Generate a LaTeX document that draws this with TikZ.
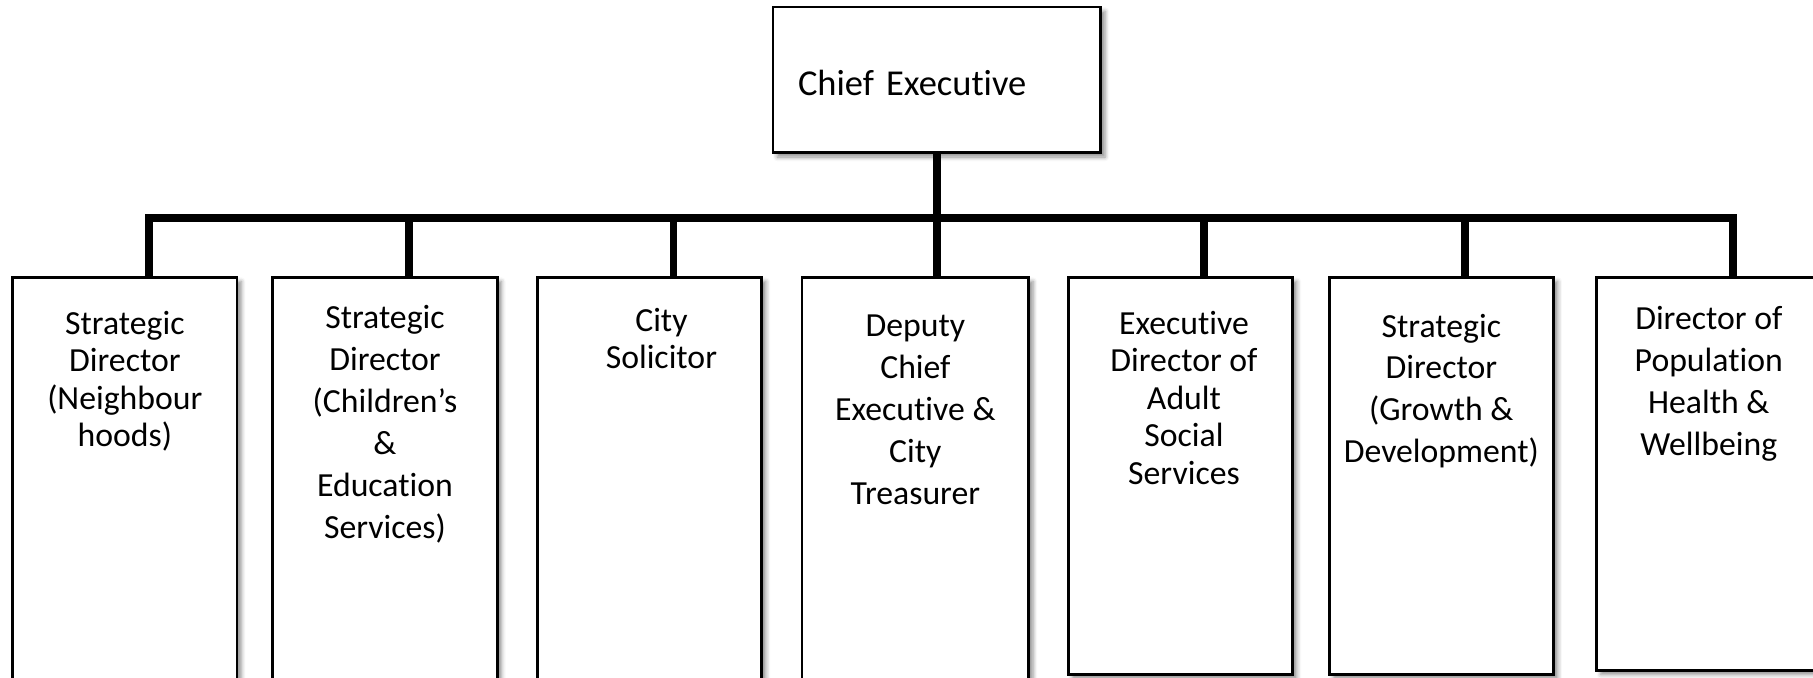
\documentclass[tikz,border=0pt]{standalone}
\usepackage{fontspec}
\setmainfont{Carlito}[Ligatures=NoCommon]
\usetikzlibrary{shadows.blur}

\begin{document}
\begin{tikzpicture}
    \tikzset{
        post/.style={draw, line width=1.3pt, fill=white, anchor=north, minimum width=3.74cm,
            blur shadow={shadow xshift=2pt, shadow yshift=-2pt, shadow blur radius=2pt, shadow opacity=45}},
        posttext/.style={anchor=north, inner sep=0pt, align=center,
            font=\fontsize{16}{17.8}\selectfont, execute at begin node=\strut},
        widetext/.style={posttext, font=\fontsize{16}{19.9}\selectfont},
        orgline/.style={line width=3.7pt, line join=miter}
    }
    \useasboundingbox (0, 0) rectangle (30.22, 11.3);

    % top post
    \node[post, anchor=center, minimum height=2.43cm, text width=4.63cm, inner xsep=0.417cm,
        align=left, text height=15pt, text depth=0pt, font=\fontsize{17.3}{20}\selectfont]
        (ce) at (15.617, 9.967) {Chief Executive};

    % directors
    \node[post, minimum height=6.8cm] (sdn) at (2.081, 6.7) {};
    \node[post, minimum height=6.8cm] (sdc) at (6.417, 6.7) {};
    \node[post, minimum height=6.8cm] (cs) at (10.825, 6.7) {};
    \node[post, minimum height=6.8cm, minimum width=3.78cm] (dce) at (15.258, 6.7) {};
    \node[post, minimum height=6.617cm] (eda) at (19.675, 6.7) {};
    \node[post, minimum height=6.617cm] (sdg) at (24.025, 6.7) {};
    \node[post, minimum height=6.55cm] (dph) at (28.483, 6.7) {};

    \node[posttext] (sdntext) at ([yshift=-0.576cm]sdn.north)
        {Strategic\\Director\\(Neighbour\\hoods)};
    \node[widetext] (sdctext) at ([yshift=-0.486cm]sdc.north)
        {Strategic\\Director\\(Children’s\\\&\\Education\\Services)};
    \node[posttext] (cstext) at ([xshift=0.2cm, yshift=-0.525cm]cs.north)
        {City\\Solicitor};
    \node[widetext] (dcetext) at ([yshift=-0.646cm]dce.north)
        {Deputy\\Chief\\Executive \&\\City\\Treasurer};
    \node[posttext] (edatext) at ([xshift=0.06cm, yshift=-0.576cm]eda.north)
        {Executive\\Director of\\Adult\\Social\\Services};
    \node[widetext] (sdgtext) at ([yshift=-0.624cm]sdg.north)
        {Strategic\\Director\\(Growth \&\\Development)};
    \node[widetext] (dphtext) at ([yshift=-0.5cm]dph.north)
        {Director of\\Population\\Health \&\\Wellbeing};

    % connectors
    \coordinate (bus) at (0, 7.667);
    \foreach \post in {sdn, sdc, cs, dce, eda, sdg, dph}
        \coordinate (\post-stem) at ([xshift=0.4cm]\post.north);

    \draw[orgline] (sdn-stem) -- (sdn-stem |- bus) -- (dph-stem |- bus) -- (dph-stem);
    \foreach \post in {sdc, cs, eda, sdg}
        \draw[orgline] (\post-stem) -- (\post-stem |- bus);
    \draw[orgline] (ce.south) -- (ce.south |- dce.north);
\end{tikzpicture}
\end{document}
